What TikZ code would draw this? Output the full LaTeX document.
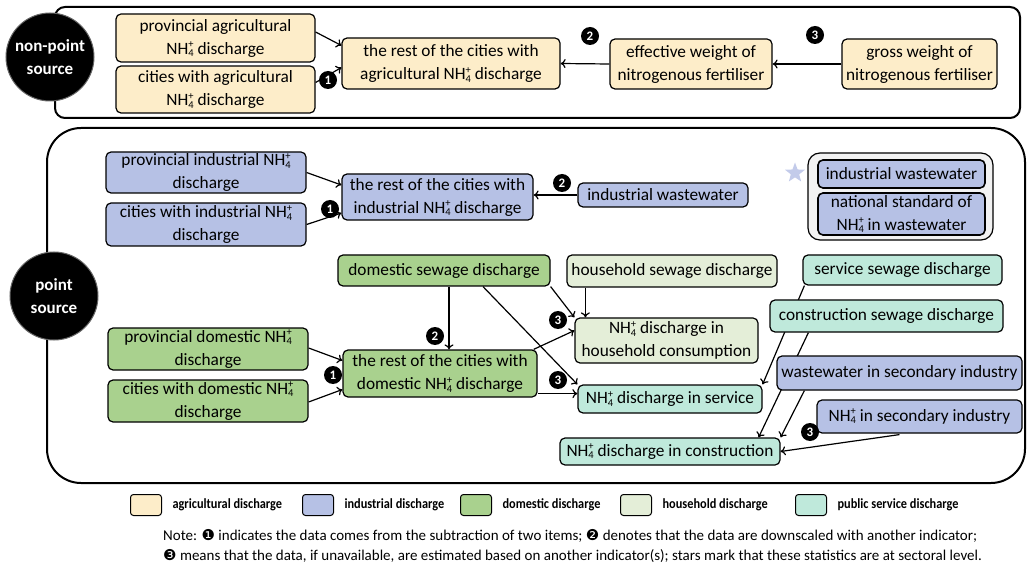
\documentclass[tikz,border=0pt]{standalone}
\usepackage{fontspec}
\setmainfont{Carlito}
\newfontfamily\dejavu{DejaVu Sans}
\newfontfamily\legfont[FakeStretch=0.88]{Carlito}
\usetikzlibrary{calc,backgrounds,positioning,shapes.geometric,arrows.meta}

\definecolor{agriFill}{HTML}{FDEDC9}
\definecolor{induFill}{HTML}{B6C1E5}
\definecolor{domeFill}{HTML}{A9D18E}
\definecolor{housFill}{HTML}{E4EED8}
\definecolor{publFill}{HTML}{BFE9DB}
\definecolor{groupFill}{HTML}{F2F2F2}
\definecolor{starFill}{HTML}{C3CBEA}

% NH4+ with the 4 and the + stacked
\newcommand{\nhfour}{NH\rlap{\raisebox{-0.35ex}{\fontsize{10.5}{10.5}\selectfont 4}}\raisebox{0.75ex}{\fontsize{10.5}{10.5}\selectfont +}}

\tikzset{
  >={To[length=5pt,width=9pt]},
  box/.style={draw, rounded corners=5pt, line width=1.2pt, align=center, inner sep=1pt,
    font=\fontsize{17.3}{23}\selectfont},
  agri/.style={box, fill=agriFill},
  indu/.style={box, fill=induFill},
  dome/.style={box, fill=domeFill},
  hous/.style={box, fill=housFill},
  publ/.style={box, fill=publFill},
  badge/.style={circle, fill=black, text=white, inner sep=0pt, minimum size=18pt,
    font=\bfseries\fontsize{13}{13}\selectfont},
  source/.style={circle, fill=black, draw=black!60, line width=1pt, text=white,
    minimum size=88pt, align=center, font=\bfseries\fontsize{17}{23}\selectfont},
  panel/.style={draw, line width=2pt},
  arr/.style={->, line width=1.2pt},
  swatch/.style={draw, rounded corners=3pt, line width=1pt, minimum width=31pt, minimum height=21pt},
  legtext/.style={right=7pt, font=\legfont\bfseries\fontsize{14}{16}\selectfont}
}

\begin{document}
\begin{tikzpicture}[x=1pt, y=-1pt]
\useasboundingbox (0,0) rectangle (1028,569);

% non-point source
\node[source] (nonPoint) at (50,57) {non-point\\source};
\node[agri, minimum width=199pt, minimum height=48pt] (agProv) at (215.5,38) {provincial agricultural\\\nhfour{} discharge};
\node[agri, minimum width=199pt, minimum height=47pt] (agCity) at (215.5,89.5) {cities with agricultural\\\nhfour{} discharge};
\node[agri, minimum width=218pt, minimum height=51pt] (agRest) at (451,63.5) {the rest of the cities with\\agricultural \nhfour{} discharge};
\node[agri, minimum width=162pt, minimum height=50pt] (agEff) at (691,64) {effective weight of\\nitrogenous fertiliser};
\node[agri, minimum width=155pt, minimum height=50pt] (agGross) at (919.5,64) {gross weight of\\nitrogenous fertiliser};
\node[badge] (agOne) at (328,80) {1};
\node[badge] (agTwo) at (590,36) {2};
\node[badge] (agThree) at (815,35) {3};

% point source
\node[source] (point) at (54,296) {point\\source};

% industrial
\node[indu, minimum width=200pt, minimum height=41pt] (inProv) at (206,172.5) {provincial industrial \nhfour\\discharge};
\node[indu, minimum width=200pt, minimum height=43pt] (inCity) at (206,224.5) {cities with industrial \nhfour\\discharge};
\node[indu, minimum width=191pt, minimum height=46pt] (inRest) at (437.5,197) {the rest of the cities with\\industrial \nhfour{} discharge};
\node[indu, minimum width=170pt, minimum height=24pt] (inWater) at (663,195) {industrial wastewater};
\node[badge] (inOne) at (330,209) {1};
\node[badge] (inTwo) at (562,183) {2};

% sectoral statistics
\node[star, star points=5, star point ratio=2.4, fill=starFill, minimum size=21pt, inner sep=0pt] (stMark) at (795,173) {};
\node[draw, fill=groupFill, rounded corners=12pt, line width=1.2pt, minimum width=185pt, minimum height=87pt] (stGroup) at (900.5,196.5) {};
\node[indu, line width=1.6pt, minimum width=167pt, minimum height=28pt] (stWater) at (901.5,174) {industrial wastewater};
\node[indu, line width=1.6pt, minimum width=167pt, minimum height=42pt] (stStandard) at (901.5,214) {national standard of\\\nhfour{} in wastewater};

% domestic
\node[dome, minimum width=212pt, minimum height=31pt] (doSewage) at (444,270.5) {domestic sewage discharge};
\node[dome, minimum width=200pt, minimum height=42pt] (doProv) at (208,349) {provincial domestic \nhfour\\discharge};
\node[dome, minimum width=200pt, minimum height=42pt] (doCity) at (208,401) {cities with domestic \nhfour\\discharge};
\node[dome, minimum width=194pt, minimum height=47pt] (doRest) at (440,373.5) {the rest of the cities with\\domestic \nhfour{} discharge};
\node[badge] (doOne) at (333,375) {1};
\node[badge] (doTwo) at (435,336) {2};

% household
\node[hous, minimum width=210pt, minimum height=32pt] (hhSewage) at (672,271) {household sewage discharge};
\node[hous, minimum width=183pt, minimum height=45pt] (hhDis) at (666.5,340.5) {\nhfour{} discharge in\\household consumption};
\node[badge] (hhThree) at (558,320) {3};

% public service
\node[publ, minimum width=184pt, minimum height=28pt] (svDis) at (670,399) {\nhfour{} discharge in service};
\node[publ, minimum width=220pt, minimum height=27pt] (coDis) at (670,451.5) {\nhfour{} discharge in construction};
\node[publ, minimum width=199pt, minimum height=30pt] (svSewage) at (902.5,270) {service sewage discharge};
\node[publ, minimum width=233pt, minimum height=32pt] (coSewage) at (886.5,316) {construction sewage discharge};
\node[indu, minimum width=245pt, minimum height=34pt] (secWater) at (899.5,373) {wastewater in secondary industry};
\node[indu, minimum width=205pt, minimum height=33pt] (secNH) at (919.5,416.5) {\nhfour{} in secondary industry};
\node[badge] (svThree) at (558,380) {3};
\node[badge] (secThree) at (810,432) {3};

% legend
\node[swatch, fill=agriFill] (swAgri) at (146,505) {};
\node[legtext] (txAgri) at (swAgri.east) {agricultural discharge};
\node[swatch, fill=induFill] (swIndu) at (318,505) {};
\node[legtext] (txIndu) at (swIndu.east) {industrial discharge};
\node[swatch, fill=domeFill] (swDome) at (476,505) {};
\node[legtext] (txDome) at (swDome.east) {domestic discharge};
\node[swatch, fill=housFill] (swHous) at (636,505) {};
\node[legtext] (txHous) at (swHous.east) {household discharge};
\node[swatch, fill=publFill] (swPubl) at (811,505) {};
\node[legtext] (txPubl) at (swPubl.east) {public service discharge};

\node[anchor=north west, align=left, inner sep=0pt, font=\fontsize{15}{20.5}\selectfont] (note) at (163,529)
  {Note: {\dejavu ❶} indicates the data comes from the subtraction of two items; {\dejavu ❷} denotes that the data are downscaled with another indicator;\\
   {\dejavu ❸} means that the data, if unavailable, are estimated based on another indicator(s); stars mark that these statistics are at sectoral level.};

\begin{pgfonlayer}{background}
% panels
\draw[panel, rounded corners=10pt] (55,7) rectangle (1020,118);
\draw[panel, rounded corners=34pt] (47,128) rectangle (1025,483);

% agricultural
\draw[arr] ($(agProv.east)+(0,-6)$) -- ($(agRest.west)+(0,-18)$);
\draw[arr] ($(agCity.east)+(0,-7)$) -- ($(agRest.west)+(0,4)$);
\draw[arr] (agEff.west) -- (agRest.east);
\draw[arr] (agGross.west) -- (agEff.east);

% industrial
\draw[arr] (inProv.east) -- ($(inRest.west)+(0,-12)$);
\draw[arr] (inCity.east) -- ($(inRest.west)+(0,16)$);
\draw[arr] (inWater.west) -- ($(inRest.east)+(0,-2)$);

% domestic
\draw[arr] ($(doProv.east)+(0,-1)$) -- ($(doRest.west)+(0,-13)$);
\draw[arr] ($(doCity.east)+(0,1)$) -- ($(doRest.west)+(0,16)$);
\draw[arr] ($(doSewage.south)+(5,0)$) -- ($(doRest.north)+(9,0)$);
\draw[arr] (doSewage.south east) -- (hhDis.north west);
\draw[arr] ($(doSewage.south)+(39,0)$) -- (svDis.north west);
\draw[arr] ($(doRest.north east)+(-4,0)$) -- ($(hhDis.west)+(0,-10)$);
\draw[arr] ($(doRest.south east)+(0,-4)$) coordinate (p) -- (p -| svDis.west);

% household
\draw[arr] ($(hhSewage.south west)+(19,0)$) -- ($(hhDis.north west)+(11,0)$);

% public service
\draw[arr] ($(svSewage.south west)+(2,0)$) -- (svDis.north east);
\draw[arr] ($(coSewage.south west)+(39,0)$) -- ($(coDis.north east)+(-22,0)$);
\draw[arr] ($(secWater.south west)+(28,0)$) -- (coDis.north east);
\draw[arr] ($(secNH.south)+(-20,1)$) -- (coDis.east);
\end{pgfonlayer}
\end{tikzpicture}
\end{document}
